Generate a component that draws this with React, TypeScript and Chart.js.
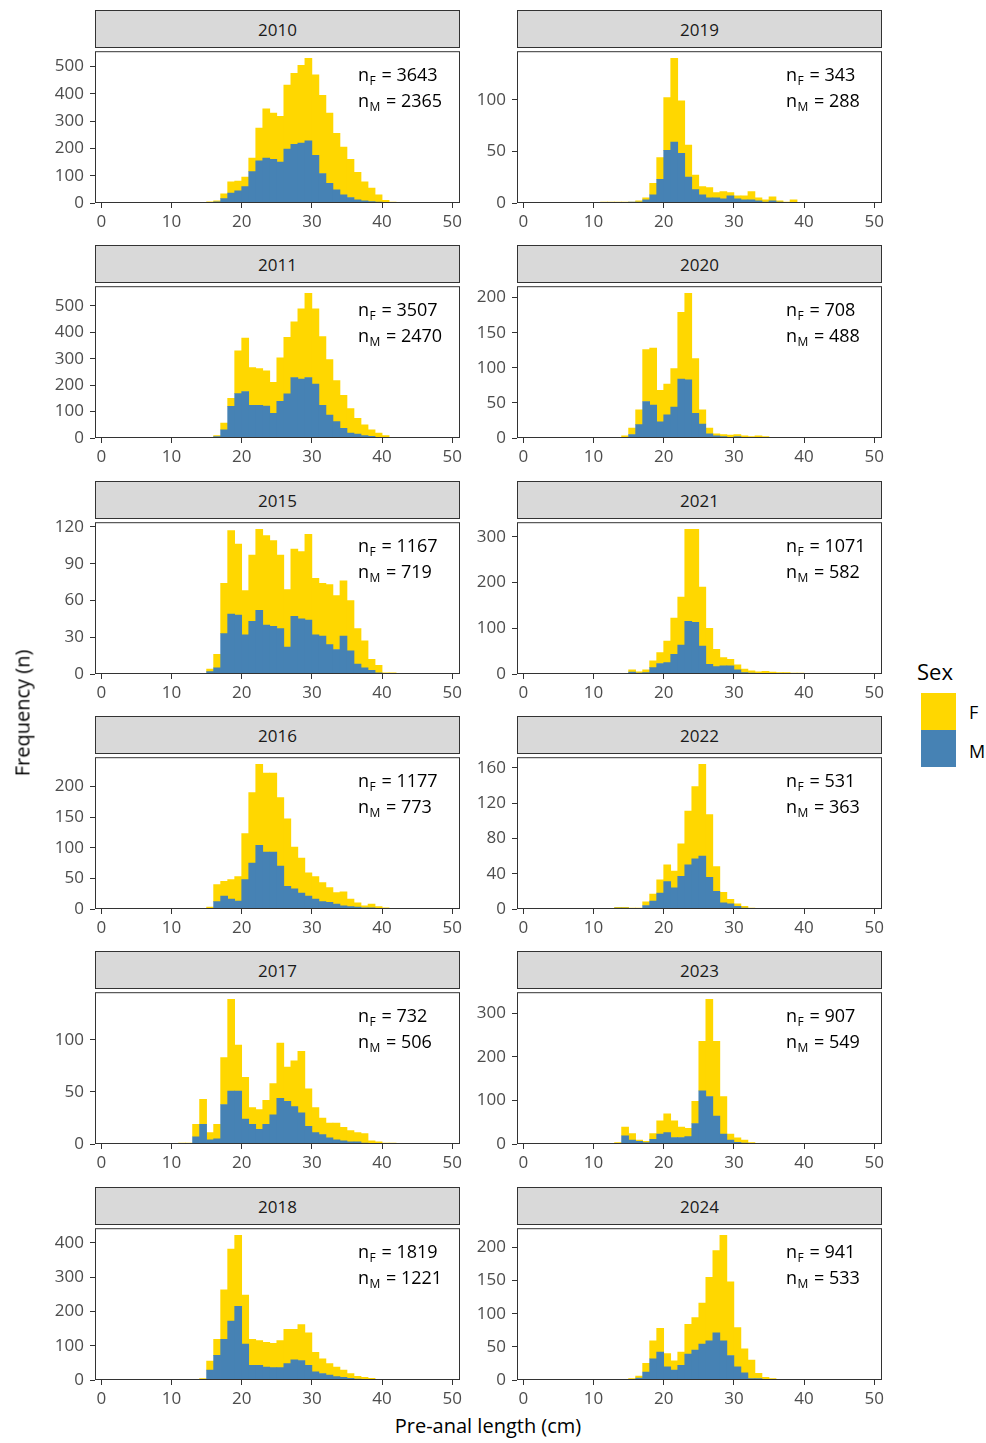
import React, { useEffect, useRef } from 'react';
import { Chart, registerables } from 'chart.js';

Chart.register(...registerables);

// Lower edges of the 1 cm length bins (cm)
const binEdges = [10, 11, 12, 13, 14, 15, 16, 17, 18, 19, 20, 21, 22, 23, 24, 25, 26, 27, 28, 29, 30, 31, 32, 33, 34, 35, 36, 37, 38, 39, 40, 41, 42, 43, 44];

const xTicks = [0, 10, 20, 30, 40, 50];

// Counts per bin, females (F) and males (M)
const f2010 = [0, 0, 0, 1, 1, 2, 4, 18, 42, 35, 35, 50, 120, 180, 170, 168, 234, 260, 285, 302, 295, 287, 258, 207, 175, 140, 100, 70, 50, 27, 9, 3, 0, 0, 0];
const m2010 = [0, 0, 0, 0, 1, 2, 4, 16, 36, 45, 60, 115, 155, 165, 160, 150, 198, 215, 220, 228, 175, 108, 72, 48, 30, 20, 12, 8, 5, 3, 1, 0, 0, 0, 0];

const f2011 = [0, 0, 0, 0, 0, 2, 4, 25, 30, 162, 202, 142, 139, 133, 118, 164, 214, 211, 266, 318, 285, 260, 210, 155, 124, 92, 59, 41, 25, 17, 8, 3, 0, 0, 0];
const m2011 = [0, 0, 0, 0, 0, 1, 5, 31, 120, 168, 176, 124, 124, 121, 93, 139, 167, 229, 223, 229, 204, 124, 87, 62, 37, 19, 15, 9, 6, 2, 1, 0, 0, 0, 0];

const f2015 = [0, 0, 0, 0, 0, 2, 11, 41, 68, 58, 36, 54, 66, 73, 70, 60, 47, 55, 55, 70, 46, 43, 49, 44, 45, 41, 29, 22, 9, 6, 1, 1, 0, 0, 0];
const m2015 = [0, 0, 0, 0, 0, 2, 5, 33, 49, 48, 32, 43, 52, 40, 39, 37, 22, 47, 45, 44, 32, 31, 24, 20, 31, 19, 8, 5, 3, 1, 0, 0, 0, 0, 0];

const f2016 = [0, 0, 0, 0, 0, 2, 28, 24, 32, 40, 75, 115, 132, 129, 129, 112, 110, 68, 57, 38, 37, 31, 24, 19, 23, 12, 7, 3, 6, 3, 2, 0, 0, 0, 0];
const m2016 = [0, 0, 0, 0, 0, 1, 12, 21, 16, 13, 48, 75, 104, 93, 93, 70, 37, 33, 26, 21, 16, 12, 11, 8, 5, 4, 3, 2, 2, 1, 0, 0, 0, 0, 0];

const f2017 = [0, 1, 1, 12, 24, 7, 14, 45, 88, 44, 40, 16, 19, 23, 30, 53, 33, 44, 59, 36, 24, 16, 14, 16, 13, 11, 9, 9, 3, 2, 1, 1, 0, 0, 0];
const m2017 = [0, 0, 0, 7, 19, 4, 5, 38, 51, 51, 24, 19, 14, 19, 28, 44, 41, 36, 30, 17, 11, 9, 6, 4, 3, 2, 2, 1, 0, 0, 0, 0, 0, 0, 0];

const f2018 = [0, 0, 0, 0, 3, 26, 47, 144, 210, 207, 143, 76, 72, 72, 71, 79, 100, 89, 105, 95, 57, 43, 34, 28, 21, 14, 8, 6, 4, 2, 1, 0, 0, 0, 0];
const m2018 = [0, 0, 0, 0, 1, 29, 72, 119, 172, 215, 105, 43, 43, 38, 36, 36, 48, 59, 57, 43, 24, 19, 14, 10, 8, 5, 3, 2, 1, 0, 0, 0, 0, 0, 0];

const f2019 = [0, 1, 1, 1, 1, 0, 1, 2, 11, 21, 51, 81, 51, 31, 14, 8, 10, 5, 7, 3, 3, 4, 8, 3, 2, 4, 1, 1, 3, 0, 0, 0, 0, 0, 0];
const m2019 = [0, 0, 0, 0, 0, 1, 1, 3, 8, 23, 51, 59, 48, 25, 13, 8, 5, 5, 4, 7, 4, 3, 3, 2, 1, 2, 1, 0, 0, 0, 0, 0, 0, 0, 0];

const f2020 = [0, 0, 0, 0, 2, 9, 21, 74, 81, 45, 44, 55, 95, 123, 78, 20, 8, 3, 3, 3, 3, 2, 2, 3, 2, 1, 1, 1, 0, 0, 0, 0, 0, 0, 0];
const m2020 = [0, 0, 0, 0, 1, 5, 19, 52, 47, 23, 33, 44, 84, 83, 35, 20, 6, 3, 2, 1, 2, 1, 0, 0, 0, 0, 0, 0, 0, 0, 0, 0, 0, 0, 0];

const f2021 = [0, 0, 0, 0, 0, 5, 3, 6, 15, 24, 47, 79, 105, 201, 203, 129, 79, 38, 18, 14, 11, 8, 5, 4, 5, 3, 3, 3, 2, 2, 0, 0, 0, 0, 0];
const m2021 = [0, 0, 0, 0, 0, 4, 2, 3, 14, 23, 25, 43, 63, 115, 113, 61, 21, 16, 18, 18, 9, 3, 2, 1, 1, 1, 0, 0, 0, 0, 0, 0, 0, 0, 0];

const f2022 = [0, 0, 0, 1, 1, 1, 1, 4, 8, 15, 19, 19, 37, 61, 82, 104, 71, 28, 12, 5, 3, 2, 1, 0, 0, 0, 0, 0, 0, 0, 0, 0, 0, 0, 0];
const m2022 = [0, 0, 0, 1, 1, 0, 0, 4, 9, 18, 31, 24, 37, 50, 57, 60, 36, 20, 7, 6, 3, 1, 0, 0, 0, 0, 0, 0, 0, 0, 0, 0, 0, 0, 0];

const f2023 = [0, 0, 0, 2, 20, 15, 3, 3, 13, 30, 43, 38, 24, 19, 51, 114, 223, 172, 86, 14, 10, 7, 3, 1, 0, 0, 0, 0, 0, 0, 0, 0, 0, 0, 0];
const m2023 = [0, 0, 0, 1, 19, 9, 6, 3, 11, 23, 26, 15, 15, 17, 47, 122, 109, 64, 23, 9, 4, 2, 0, 0, 0, 0, 0, 0, 0, 0, 0, 0, 0, 0, 0];

const f2024 = [0, 0, 0, 0, 0, 1, 3, 13, 27, 36, 20, 14, 20, 45, 49, 62, 96, 124, 159, 111, 59, 36, 28, 8, 4, 2, 1, 1, 1, 0, 0, 0, 0, 0, 0];
const m2024 = [0, 0, 0, 0, 0, 1, 3, 12, 32, 42, 20, 15, 22, 39, 45, 54, 59, 71, 59, 37, 20, 11, 2, 2, 0, 0, 0, 0, 0, 0, 0, 0, 0, 0, 0];

// Y tick labels for each facet
const yTicks2010 = [0, 100, 200, 300, 400, 500];
const yTicks2011 = [0, 100, 200, 300, 400, 500];
const yTicks2015 = [0, 30, 60, 90, 120];
const yTicks2016 = [0, 50, 100, 150, 200];
const yTicks2017 = [0, 50, 100];
const yTicks2018 = [0, 100, 200, 300, 400];
const yTicks2019 = [0, 50, 100];
const yTicks2020 = [0, 50, 100, 150, 200];
const yTicks2021 = [0, 100, 200, 300];
const yTicks2022 = [0, 40, 80, 120, 160];
const yTicks2023 = [0, 100, 200, 300];
const yTicks2024 = [0, 50, 100, 150, 200];

// Sample sizes shown in each facet
const years = ['2010', '2011', '2015', '2016', '2017', '2018', '2019', '2020', '2021', '2022', '2023', '2024'];
const femaleN = [3643, 3507, 1167, 1177, 732, 1819, 343, 708, 1071, 531, 907, 941];
const maleN = [2365, 2470, 719, 773, 506, 1221, 288, 488, 582, 363, 549, 533];

const femaleSeries = [f2010, f2011, f2015, f2016, f2017, f2018, f2019, f2020, f2021, f2022, f2023, f2024];
const maleSeries = [m2010, m2011, m2015, m2016, m2017, m2018, m2019, m2020, m2021, m2022, m2023, m2024];
const yTickSets = [yTicks2010, yTicks2011, yTicks2015, yTicks2016, yTicks2017, yTicks2018, yTicks2019, yTicks2020, yTicks2021, yTicks2022, yTicks2023, yTicks2024];

const FEMALE_COLOR = '#FFD700';
const MALE_COLOR = '#4682B4';
const FONT = '"Open Sans", "Liberation Sans", sans-serif';
const TICK_COLOR = '#4D4D4D';
const FRAME_COLOR = '#333333';

// Facet geometry (px)
const COL_LEFT = [95, 517];
const LABEL_OFFSET = [263, 269];
const PANEL_W = 365;
const PLOT_H = 156;
const FIRST_STRIP_TOP = 10;
const STRIP_H = 37;
const ROW_STEP = 235.3;
const AXIS_W = 60;
const AXIS_H = 30;
const PAD_T = 12;
const PAD_R = 12;
const X_MIN = -0.9;
const X_MAX = 51.1;

type Panel = {
  year: string;
  female: number[];
  male: number[];
  yTicks: number[];
  nF: number;
  nM: number;
  col: number;
  row: number;
};

const panels: Panel[] = years.map((year, i) => ({
  year,
  female: femaleSeries[i],
  male: maleSeries[i],
  yTicks: yTickSets[i],
  nF: femaleN[i],
  nM: maleN[i],
  col: i < 6 ? 0 : 1,
  row: i % 6,
}));

const panelFrame = {
  id: 'panelFrame',
  afterDraw(chart: any) {
    const { ctx, chartArea } = chart;
    ctx.save();
    ctx.strokeStyle = FRAME_COLOR;
    ctx.lineWidth = 1;
    ctx.strokeRect(chartArea.left + 0.5, chartArea.top + 0.5, chartArea.right - chartArea.left - 1, chartArea.bottom - chartArea.top - 1);
    ctx.restore();
  },
};

function drawCount(ctx: CanvasRenderingContext2D, x: number, y: number, sub: string, value: number) {
  ctx.fillStyle = '#000000';
  ctx.textBaseline = 'alphabetic';
  ctx.textAlign = 'left';
  ctx.font = `18px ${FONT}`;
  ctx.fillText('n', x, y);
  const wn = ctx.measureText('n').width;
  ctx.font = `12px ${FONT}`;
  ctx.fillText(sub, x + wn + 0.5, y + 4);
  const ws = ctx.measureText(sub).width;
  ctx.font = `18px ${FONT}`;
  ctx.fillText(` = ${value}`, x + wn + ws + 1.5, y);
}

const sampleSizes = {
  id: 'sampleSizes',
  afterDraw(chart: any, _args: any, opts: any) {
    const { ctx, chartArea } = chart;
    ctx.save();
    const x = chartArea.left + opts.offset;
    drawCount(ctx, x, chartArea.top + 30, 'F', opts.nF);
    drawCount(ctx, x, chartArea.top + 56, 'M', opts.nM);
    ctx.restore();
  },
};

function FacetPanel({ panel }: { panel: Panel }) {
  const ref = useRef<HTMLCanvasElement>(null);
  const left = COL_LEFT[panel.col];
  const stripTop = Math.round(FIRST_STRIP_TOP + ROW_STEP * panel.row);
  const plotTop = stripTop + STRIP_H;
  const canvasW = AXIS_W + PANEL_W + PAD_R;
  const canvasH = PAD_T + PLOT_H + AXIS_H;

  useEffect(() => {
    const canvas = ref.current;
    if (!canvas) return;
    const totals = panel.female.map((f, i) => f + panel.male[i]);
    const peak = Math.max(...totals);
    const tickFont = { family: FONT, size: 17 };
    const chart = new Chart(canvas, {
      type: 'bar',
      data: {
        datasets: [
          {
            label: 'M',
            data: binEdges.map((e, i) => ({ x: e + 0.5, y: panel.male[i] })),
            backgroundColor: MALE_COLOR,
            borderWidth: 0,
            barPercentage: 1,
            categoryPercentage: 1,
            grouped: false,
          },
          {
            label: 'F',
            data: binEdges.map((e, i) => ({ x: e + 0.5, y: panel.female[i] })),
            backgroundColor: FEMALE_COLOR,
            borderWidth: 0,
            barPercentage: 1,
            categoryPercentage: 1,
            grouped: false,
          },
        ],
      } as any,
      options: {
        responsive: false,
        animation: false,
        devicePixelRatio: 1,
        layout: { padding: { top: PAD_T, right: PAD_R, left: 0, bottom: 0 } },
        plugins: {
          legend: { display: false },
          tooltip: { enabled: false },
          sampleSizes: { nF: panel.nF, nM: panel.nM, offset: LABEL_OFFSET[panel.col] },
        } as any,
        scales: {
          x: {
            type: 'linear',
            min: X_MIN,
            max: X_MAX,
            offset: false,
            afterFit: (s: any) => {
              s.height = AXIS_H;
            },
            afterBuildTicks: (s: any) => {
              s.ticks = xTicks.map((v) => ({ value: v }));
            },
            ticks: {
              autoSkip: false,
              maxRotation: 0,
              padding: 4,
              color: TICK_COLOR,
              font: tickFont,
              callback: (v: any) => String(v),
            },
            grid: { offset: false, drawOnChartArea: false, drawTicks: true, tickLength: 5, color: FRAME_COLOR, lineWidth: 1 },
            border: { display: false },
          },
          y: {
            type: 'linear',
            stacked: true,
            min: 0,
            max: peak * 1.05,
            afterFit: (s: any) => {
              s.width = AXIS_W;
            },
            afterBuildTicks: (s: any) => {
              s.ticks = panel.yTicks.map((v) => ({ value: v }));
            },
            ticks: {
              autoSkip: false,
              padding: 6,
              color: TICK_COLOR,
              font: tickFont,
              callback: (v: any) => String(v),
            },
            grid: { offset: false, drawOnChartArea: false, drawTicks: true, tickLength: 5, color: FRAME_COLOR, lineWidth: 1 },
            border: { display: false },
          },
        } as any,
      },
      plugins: [panelFrame, sampleSizes],
    });
    return () => chart.destroy();
  }, [panel]);

  return (
    <>
      <div
        style={{
          position: 'absolute',
          left,
          top: stripTop,
          width: PANEL_W,
          height: STRIP_H + 1,
          boxSizing: 'border-box',
          background: '#D9D9D9',
          border: `1px solid ${FRAME_COLOR}`,
          display: 'flex',
          alignItems: 'center',
          justifyContent: 'center',
          fontFamily: FONT,
          fontSize: 17,
          color: '#1A1A1A',
        }}
      >
        {panel.year}
      </div>
      <canvas
        ref={ref}
        width={canvasW}
        height={canvasH}
        style={{ position: 'absolute', left: left - AXIS_W, top: plotTop - PAD_T, width: canvasW, height: canvasH }}
      />
    </>
  );
}

export default function App() {
  return (
    <div
      style={{
        position: 'absolute',
        left: 0,
        top: 0,
        width: 986,
        height: 1443,
        background: '#FFFFFF',
        overflow: 'hidden',
        fontFamily: FONT,
      }}
    >
      {panels.map((p) => (
        <FacetPanel key={p.year} panel={p} />
      ))}
      <div
        style={{
          position: 'absolute',
          left: 22,
          top: 713,
          transform: 'translate(-50%, -50%) rotate(-90deg)',
          whiteSpace: 'nowrap',
          fontSize: 20,
          color: '#000',
        }}
      >
        Frequency (n)
      </div>
      <div
        style={{
          position: 'absolute',
          left: 488,
          top: 1425,
          transform: 'translate(-50%, -50%)',
          whiteSpace: 'nowrap',
          fontSize: 20,
          color: '#000',
        }}
      >
        Pre-anal length (cm)
      </div>
      <div style={{ position: 'absolute', left: 917, top: 671, transform: 'translateY(-50%)', fontSize: 22, color: '#000' }}>Sex</div>
      <div style={{ position: 'absolute', left: 921, top: 693, width: 35, height: 37, background: FEMALE_COLOR }} />
      <div style={{ position: 'absolute', left: 921, top: 730, width: 35, height: 37, background: MALE_COLOR }} />
      <div style={{ position: 'absolute', left: 969, top: 712, transform: 'translateY(-50%)', fontSize: 18, color: '#000' }}>F</div>
      <div style={{ position: 'absolute', left: 969, top: 751, transform: 'translateY(-50%)', fontSize: 18, color: '#000' }}>M</div>
    </div>
  );
}
